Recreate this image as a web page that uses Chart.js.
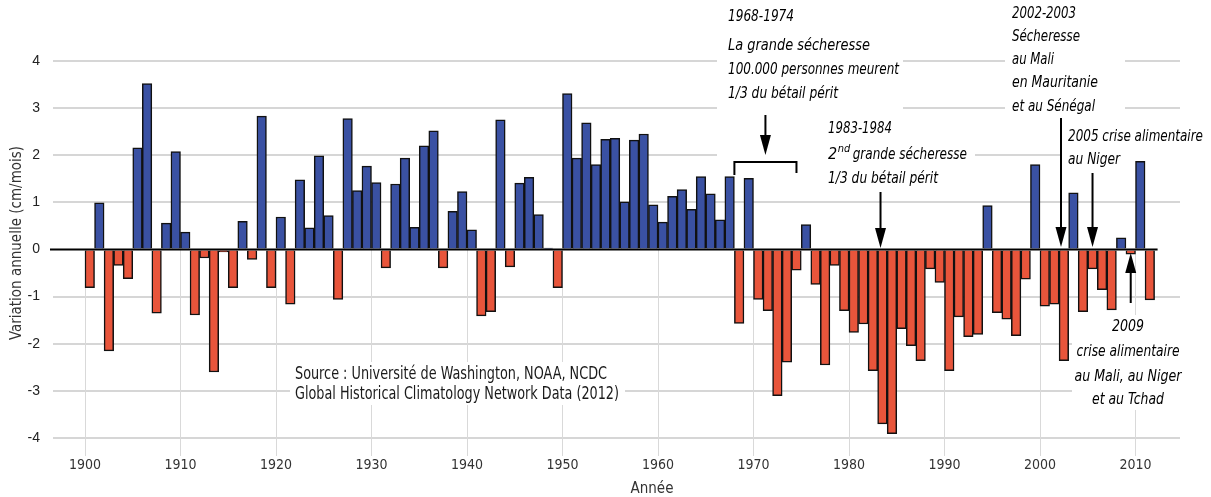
<!DOCTYPE html>
<html>
<head>
<meta charset="utf-8">
<script src="https://cdn.jsdelivr.net/npm/chart.js@4.4.0/dist/chart.umd.min.js"></script>
<style>
  html, body { margin: 0; padding: 0; background: #fff; }
  #wrap { width: 1211px; height: 497px; position: relative; }
</style>
</head>
<body>
<div id="wrap"><canvas id="rain-chart"></canvas></div>
<script>
'use strict';

// annual rainfall anomaly (cm/mois), one value per year from 1900
const firstYear = 1900;
const rainfall = [
  -0.81, 0.99, -2.15, -0.34, -0.62, 2.16, 3.52, -1.35, 0.56, 2.08,
  0.37, -1.39, -0.18, -2.6, -0.05, -0.81, 0.6, -0.21, 2.83, -0.81,
  0.69, -1.16, 1.48, 0.46, 1.99, 0.72, -1.06, 2.78, 1.25, 1.77,
  1.42, -0.39, 1.39, 1.94, 0.47, 2.2, 2.52, -0.39, 0.81, 1.23,
  0.42, -1.41, -1.32, 2.75, -0.37, 1.41, 1.53, 0.74, 0.03, -0.81,
  3.31, 1.94, 2.69, 1.8, 2.34, 2.36, 1.01, 2.32, 2.45, 0.95,
  0.58, 1.13, 1.27, 0.85, 1.55, 1.18, 0.63, 1.55, -1.57, 1.51,
  -1.06, -1.3, -3.1, -2.39, -0.44, 0.53, -0.74, -2.45, -0.34, -1.3,
  -1.76, -1.58, -2.57, -3.7, -3.91, -1.68, -2.04, -2.36, -0.41, -0.7,
  -2.57, -1.43, -1.85, -1.8, 0.93, -1.34, -1.48, -1.83, -0.63, 1.8,
  -1.2, -1.16, -2.36, 1.2, -1.32, -0.41, -0.85, -1.28, 0.25, -0.1,
  1.87, -1.07
];
const years = rainfall.map((v, i) => firstYear + i);
const decades = [1900, 1910, 1920, 1930, 1940, 1950, 1960, 1970, 1980, 1990, 2000, 2010];
const yTicks = [-4, -3, -2, -1, 0, 1, 2, 3, 4];

const blue = '#3a51a3';
const red = '#e8553b';
const narrow = "'Liberation Sans Narrow', 'DejaVu Sans Condensed', 'Liberation Sans', sans-serif";

// text blocks: [y, text, max width]
const notes = [
  { x: 728, align: 'left', lines: [
    [17, '1968-1974', 66], [46, 'La grande sécheresse', 142],
    [70, '100.000 personnes meurent', 171], [94, '1/3 du bétail périt', 110]] },
  { x: 828, align: 'left', lines: [
    [129, '1983-1984', 64], [179, '1/3 du bétail périt', 110]] },
  { x: 1012, align: 'left', lines: [
    [14, '2002-2003', 64], [37, 'Sécheresse', 68], [60, 'au Mali', 42],
    [83, 'en Mauritanie', 86], [107, 'et au Sénégal', 83]] },
  { x: 1068, align: 'left', lines: [
    [137, '2005 crise alimentaire', 135], [160, 'au Niger', 52]] },
  { x: 1128, align: 'center', lines: [
    [327, '2009', 32], [352, 'crise alimentaire', 103],
    [377, 'au Mali, au Niger', 107], [400, 'et au Tchad', 72]] }
];

function arrow(ctx, x, yFrom, yTip) {
  const dir = yTip > yFrom ? 1 : -1;
  const head = 20;
  ctx.strokeStyle = '#000';
  ctx.fillStyle = '#000';
  ctx.lineWidth = 2;
  ctx.beginPath();
  ctx.moveTo(x, yFrom);
  ctx.lineTo(x, yTip - dir * head);
  ctx.stroke();
  ctx.beginPath();
  ctx.moveTo(x - 5.5, yTip - dir * head);
  ctx.lineTo(x + 5.5, yTip - dir * head);
  ctx.lineTo(x, yTip);
  ctx.closePath();
  ctx.fill();
}

const overlay = {
  id: 'overlay',
  beforeDatasetsDraw(chart) {
    const ctx = chart.ctx;
    const xs = chart.scales.x, ys = chart.scales.y;
    const y0 = ys.getPixelForValue(0);
    ctx.save();
    // decade lines only in the lower half
    ctx.strokeStyle = '#d9d9d9';
    ctx.lineWidth = 1;
    decades.forEach(d => {
      const px = Math.round(xs.getPixelForValue(d)) + 0.5;
      ctx.beginPath();
      ctx.moveTo(px, y0);
      ctx.lineTo(px, ys.bottom + 18);
      ctx.stroke();
    });
    // white areas behind annotations
    ctx.fillStyle = '#fff';
    [[717, 0, 903, 180], [820, 118, 975, 190], [1005, 0, 1125, 118],
     [1062, 126, 1211, 170], [1072, 315, 1211, 410], [290, 362, 625, 405]]
      .forEach(r => ctx.fillRect(r[0], r[1], r[2] - r[0], r[3] - r[1]));
    ctx.restore();
  },
  afterDatasetsDraw(chart) {
    const ctx = chart.ctx;
    const xs = chart.scales.x, ys = chart.scales.y;
    const y0 = ys.getPixelForValue(0);
    ctx.save();
    // zero line
    ctx.strokeStyle = '#000';
    ctx.lineWidth = 2;
    ctx.beginPath();
    ctx.moveTo(chart.chartArea.left - 3, y0);
    ctx.lineTo(xs.getPixelForValue(years[years.length - 1] + 1) + 3, y0);
    ctx.stroke();

    ctx.fillStyle = '#000';
    ctx.textBaseline = 'middle';
    ctx.font = 'italic 16px ' + narrow;
    notes.forEach(n => {
      ctx.textAlign = n.align;
      n.lines.forEach(l => ctx.fillText(l[1], n.x, l[0], l[2]));
    });
    // 2nd grande sécheresse, with superscript
    ctx.textAlign = 'left';
    ctx.fillText('2', 828, 155);
    let w = ctx.measureText('2').width;
    ctx.font = 'italic 11px ' + narrow;
    ctx.fillText('nd', 828 + w + 0.5, 149);
    w += ctx.measureText('nd').width + 3;
    ctx.font = 'italic 16px ' + narrow;
    ctx.fillText('grande sécheresse', 828 + w, 155, 139 - w);

    // bracket + arrows
    const bx0 = xs.getPixelForValue(1968), bx1 = xs.getPixelForValue(1974.5);
    ctx.strokeStyle = '#000';
    ctx.lineWidth = 2;
    ctx.beginPath();
    ctx.moveTo(bx0, 175);
    ctx.lineTo(bx0, 162);
    ctx.lineTo(bx1, 162);
    ctx.lineTo(bx1, 173);
    ctx.stroke();
    arrow(ctx, (bx0 + bx1) / 2, 115, 155);
    arrow(ctx, xs.getPixelForValue(1983.3), 192, 248);
    arrow(ctx, xs.getPixelForValue(2002.2), 118, 247);
    arrow(ctx, xs.getPixelForValue(2005.5), 173, 247);
    arrow(ctx, xs.getPixelForValue(2009.5), 303, 253);

    // source
    ctx.fillStyle = '#1a1a1a';
    ctx.font = '17px ' + narrow;
    ctx.fillText('Source : Université de Washington, NOAA, NCDC', 295, 375, 312);
    ctx.fillText('Global Historical Climatology Network Data (2012)', 295, 395, 324);

    // axis titles
    ctx.fillStyle = '#333';
    ctx.textAlign = 'center';
    ctx.font = '15px ' + narrow;
    ctx.fillText('Année', 652, 489, 44);
    ctx.translate(17, 243);
    ctx.rotate(-Math.PI / 2);
    ctx.fillText('Variation annuelle (cm/mois)', 0, 0, 213);
    ctx.restore();
  }
};

new Chart(document.getElementById('rain-chart'), {
  type: 'bar',
  data: {
    datasets: [{
      data: years.map((y, i) => ({ x: y + 0.5, y: rainfall[i] })),
      backgroundColor: rainfall.map(v => v >= 0 ? blue : red),
      borderColor: '#111',
      borderWidth: 1.5,
      barPercentage: 1,
      categoryPercentage: 1
    }]
  },
  options: {
    responsive: true,
    maintainAspectRatio: false,
    animation: false,
    layout: { padding: { top: 61, right: 31, left: 0, bottom: 0 } },
    plugins: {
      legend: { display: false },
      tooltip: { enabled: false }
    },
    scales: {
      x: {
        type: 'linear',
        min: 1896.65,
        max: 2014.66,
        offset: false,
        grid: { display: false, drawTicks: false },
        border: { display: false },
        afterBuildTicks: s => { s.ticks = decades.map(v => ({ value: v })); },
        afterFit: s => { s.height = 59; },
        ticks: {
          padding: 19,
          color: '#333',
          maxRotation: 0,
          autoSkip: false,
          font: { family: narrow, size: 14 },
          callback: v => String(v)
        }
      },
      y: {
        min: -4,
        max: 4,
        afterBuildTicks: s => { s.ticks = yTicks.map(v => ({ value: v })); },
        afterFit: s => { s.width = 53; },
        grid: {
          color: c => (c.tick && c.tick.value === 0) ? 'rgba(0,0,0,0)' : '#d6d6d6',
          lineWidth: 2,
          drawTicks: false
        },
        border: { display: false },
        ticks: { padding: 13, color: '#222', font: { family: "'Liberation Sans', sans-serif", size: 14 } }
      }
    }
  },
  plugins: [overlay]
});
</script>
</body>
</html>
